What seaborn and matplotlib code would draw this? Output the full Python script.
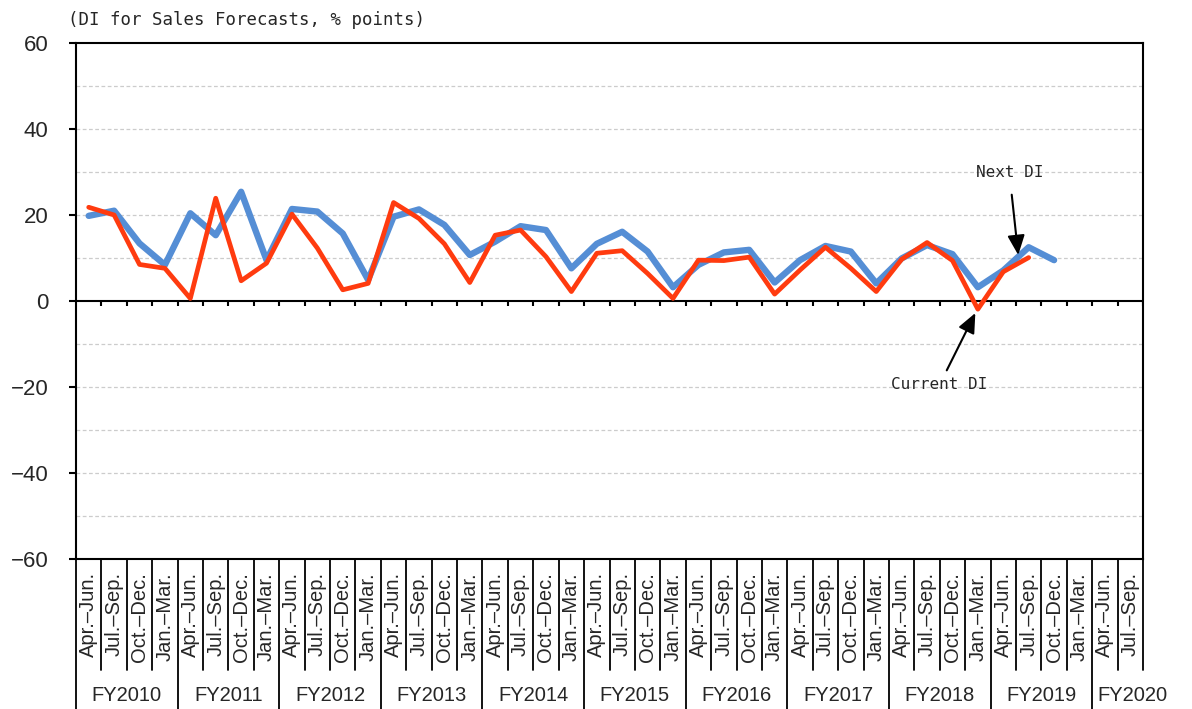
import numpy as np
import pandas as pd
import matplotlib
matplotlib.use("Agg")
import matplotlib.pyplot as plt
import matplotlib.transforms as mtransforms
import seaborn as sns

# Fiscal years and quarter labels (FY2020 only has two quarters shown)
fiscal_years = ["FY2010", "FY2011", "FY2012", "FY2013", "FY2014",
                "FY2015", "FY2016", "FY2017", "FY2018", "FY2019", "FY2020"]
quarters = ["Apr.\u2013Jun.", "Jul.\u2013Sep.", "Oct.\u2013Dec.", "Jan.\u2013Mar."]
quarters_last_year = 2

# DI values
current_di = [21.8, 20.0, 8.5, 7.6,
              0.6, 23.9, 4.7, 8.8,
              20.2, 12.3, 2.6, 4.1,
              22.9, 19.2, 13.3, 4.3,
              15.3, 16.5, 10.3, 2.2,
              11.1, 11.7, 6.4, 0.6,
              9.5, 9.4, 10.2, 1.6,
              7.2, 12.5, 7.6, 2.2,
              9.7, 13.6, 9.4, -1.9,
              6.8, 10.1]
next_di = [19.8, 21.0, 13.4, 8.4,
           20.4, 15.3, 25.4, 9.5,
           21.4, 20.8, 15.7, 4.9,
           19.6, 21.3, 17.7, 10.7,
           13.8, 17.4, 16.5, 7.6,
           13.3, 16.1, 11.5, 3.2,
           8.4, 11.3, 11.9, 4.3,
           9.5, 12.8, 11.5, 4.1,
           9.9, 13.0, 10.9, 3.2,
           7.1, 12.5, 9.5]

y_label = "(DI for Sales Forecasts, % points)"

# build category list
cat_labels = []
for fy in fiscal_years[:-1]:
    cat_labels += quarters
cat_labels += quarters[:quarters_last_year]
n_cats = len(cat_labels)

df_next = pd.DataFrame({"pos": np.arange(len(next_di)), "di": next_di})
df_cur = pd.DataFrame({"pos": np.arange(len(current_di)), "di": current_di})

sns.set_style("white")
plt.rcParams["font.family"] = ["Liberation Sans", "DejaVu Sans"]
mono = "DejaVu Sans Mono"

fig = plt.figure(figsize=(11.92, 7.09), dpi=100)
ax = fig.add_axes([76 / 1192, 1 - 559 / 709, (1143 - 76) / 1192, (559 - 43) / 709])

# gridlines every 10 (0 line is drawn solid)
for g in range(-50, 60, 10):
    if g == 0:
        continue
    ax.axhline(g, color="#cccccc", lw=0.9, ls=(0, (3, 2)), zorder=0)
ax.axhline(0, color="black", lw=1.5, zorder=1)
ax.vlines(np.arange(n_cats) + 0.5, -1.2, 0, color="black", lw=1.5, zorder=1)

sns.lineplot(data=df_next, x="pos", y="di", color="#558ED5", lw=4.6, ax=ax, zorder=3)
sns.lineplot(data=df_cur, x="pos", y="di", color="#FF3B0F", lw=3.4, ax=ax, zorder=4)

ax.set_xlim(-0.5, n_cats - 0.5)
ax.set_ylim(-60, 60)
ax.set_yticks(range(-60, 61, 20))
ax.set_xticks([])
ax.set_xlabel("")
ax.set_ylabel("")
ax.tick_params(axis="y", direction="out", length=5, width=1.5, pad=15,
               labelsize=16, left=True, color="black")
for sp in ax.spines.values():
    sp.set_visible(True)
    sp.set_color("black")
    sp.set_linewidth(1.5)

# category table below the plot
trans = mtransforms.blended_transform_factory(ax.transData, ax.transAxes)
for i in range(n_cats + 1):
    b = i - 0.5
    low = -0.29 if (i % 4 == 0 and i < n_cats) else -0.215
    ax.plot([b, b], [0, low], color="black", lw=1.3, transform=trans, clip_on=False)
for i, lab in enumerate(cat_labels):
    ax.text(i, -0.025, lab, rotation=90, ha="center", va="top", fontsize=14.5,
            transform=trans)
for k, fy in enumerate(fiscal_years):
    if k < len(fiscal_years) - 1:
        xc = 4 * k + 1.5
    else:
        xc = 41.1
    ax.text(xc, -0.2636, fy, ha="center", va="center", fontsize=14.5, transform=trans)

# annotations
arrow = "-|>,head_length=0.8,head_width=0.35"
ax.annotate("Next DI", xy=(36.59, 10.7), xytext=(36.24, 29.8),
            ha="center", va="center", fontsize=11.5, family=mono,
            arrowprops=dict(arrowstyle=arrow, mutation_scale=15, color="black",
                            lw=1.5, shrinkA=8, shrinkB=0))
ax.annotate("Current DI", xy=(34.9, -2.8), xytext=(33.49, -19.5),
            ha="center", va="center", fontsize=11.5, family=mono,
            arrowprops=dict(arrowstyle=arrow, mutation_scale=15, color="black",
                            lw=1.5, shrinkA=3, shrinkB=0))

fig.text(68 / 1192, 1 - 20 / 709, y_label, ha="left", va="center",
         fontsize=12.5, family=mono)

fig.savefig("out.png", dpi=100)
